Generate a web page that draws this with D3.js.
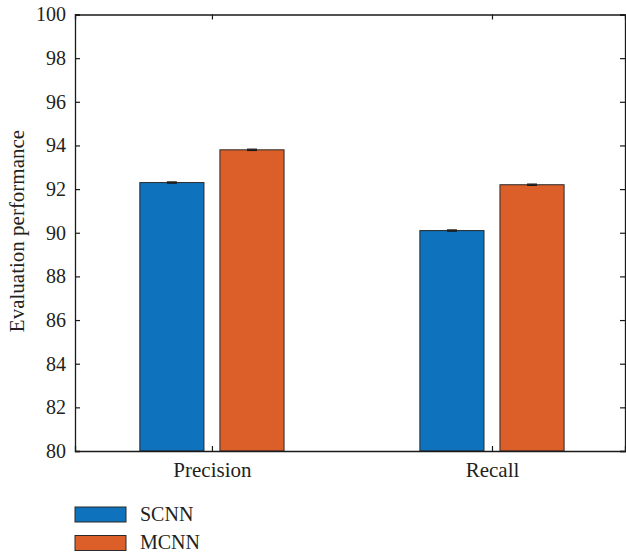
<!DOCTYPE html>
<html><head><meta charset="utf-8">
<script src="https://cdn.jsdelivr.net/npm/d3@7"></script>
<style>body{margin:0;background:#fff;} svg{display:block;}</style>
</head><body>
<script>
const categories = ["Precision", "Recall"];
const seriesNames = ["SCNN", "MCNN"];
const scnnValues = [92.3, 90.1];
const mcnnValues = [93.8, 92.2];
const scnnErr = [0.03, 0.03];
const mcnnErr = [0.03, 0.03];
const yTicks = [80, 82, 84, 86, 88, 90, 92, 94, 96, 98, 100];
const colors = ["#0f72bd", "#dc5e29"];

const W = 626, H = 554;
const L = 75, R = 625, T = 14.5, B = 451;
const svg = d3.select("body").append("svg").attr("width", W).attr("height", H);
const font = "'Liberation Serif', 'Times New Roman', serif";

const x = d3.scaleLinear().domain([0.511, 2.475]).range([L, R]);
const y = d3.scaleLinear().domain([80, 100]).range([B, T]);

const series = [scnnValues, mcnnValues];
const errs = [scnnErr, mcnnErr];
const offsets = [-0.143, 0.143];
const bw = 0.229;

// bars
series.forEach((vals, s) => {
  svg.append("g").selectAll("rect").data(vals).join("rect")
    .attr("x", (d, i) => x(i + 1 + offsets[s] - bw / 2))
    .attr("width", x(bw) - x(0))
    .attr("y", d => y(d))
    .attr("height", d => y(80) - y(d))
    .attr("fill", colors[s])
    .attr("stroke", "#2a2a2a")
    .attr("stroke-width", 1);
  const g = svg.append("g").attr("stroke", "#1a1a1a").attr("stroke-width", 1.2);
  vals.forEach((d, i) => {
    const cx = x(i + 1 + offsets[s]);
    g.append("line").attr("x1", cx).attr("x2", cx).attr("y1", y(d - errs[s][i])).attr("y2", y(d + errs[s][i]));
    g.append("line").attr("x1", cx - 5).attr("x2", cx + 5).attr("y1", y(d + errs[s][i])).attr("y2", y(d + errs[s][i]));
    g.append("line").attr("x1", cx - 5).attr("x2", cx + 5).attr("y1", y(d - errs[s][i])).attr("y2", y(d - errs[s][i]));
  });
});

// axes
const tickLen = 5;
const yAxis = d3.axisLeft(y).tickValues(yTicks).tickSize(-tickLen).tickPadding(9).tickFormat(d3.format("d"));
const gy = svg.append("g").attr("transform", `translate(${L},0)`).call(yAxis);
const yAxisR = d3.axisRight(y).tickValues(yTicks).tickSize(-tickLen).tickFormat("");
const gyr = svg.append("g").attr("transform", `translate(${R},0)`).call(yAxisR);
const xAxis = d3.axisBottom(x).tickValues([1, 2]).tickSize(-tickLen).tickPadding(11).tickFormat((d) => categories[d - 1]);
const gx = svg.append("g").attr("transform", `translate(0,${B})`).call(xAxis);
const xAxisT = d3.axisTop(x).tickValues([1, 2]).tickSize(-tickLen).tickFormat("");
const gxt = svg.append("g").attr("transform", `translate(0,${T})`).call(xAxisT);

[gy, gyr, gx, gxt].forEach(g => {
  g.select(".domain").attr("stroke", "#1a1a1a").attr("stroke-width", 1.3);
  g.selectAll(".tick line").attr("stroke", "#1a1a1a").attr("stroke-width", 1.2);
  g.selectAll("text").attr("font-family", font).attr("font-size", 20).attr("fill", "#231f20");
});
gx.selectAll("text").attr("font-size", 21).attr("dy", "0.71em");

// y title
svg.append("text")
  .attr("transform", `translate(24,231) rotate(-90)`)
  .attr("text-anchor", "middle")
  .attr("font-family", font).attr("font-size", 21).attr("fill", "#231f20")
  .text("Evaluation performance");

// legend
const leg = svg.append("g");
seriesNames.forEach((name, i) => {
  const ly = 507 + i * 28.5;
  leg.append("rect").attr("x", 75).attr("y", ly).attr("width", 51).attr("height", 15)
    .attr("fill", colors[i]).attr("stroke", "#2a2a2a").attr("stroke-width", 1);
  leg.append("text").attr("x", 140).attr("y", ly + 7.5).attr("dy", "0.3em")
    .attr("font-family", font).attr("font-size", 20).attr("fill", "#231f20").text(name);
});
</script>
</body></html>
